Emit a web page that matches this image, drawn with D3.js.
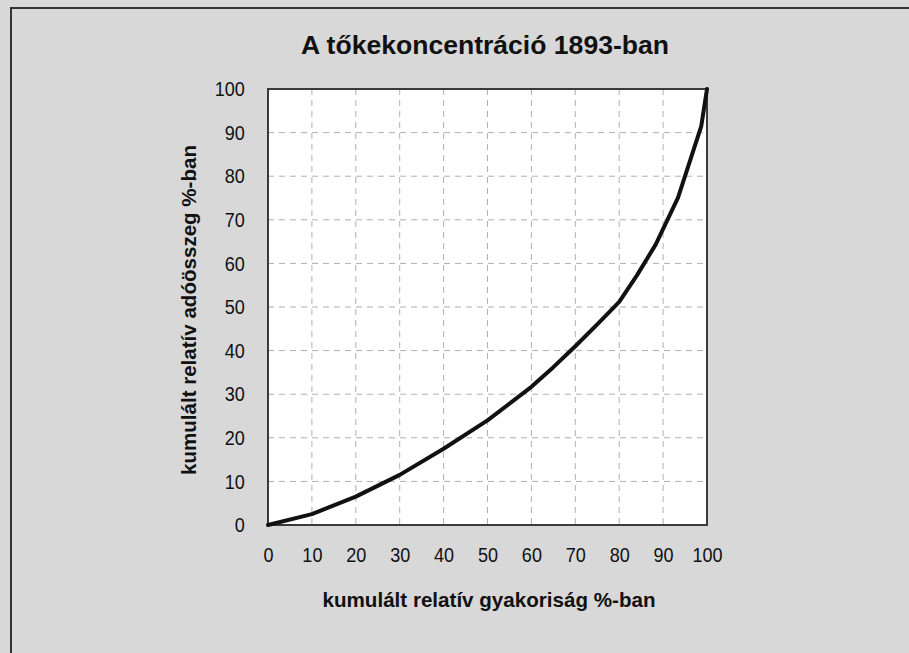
<!DOCTYPE html>
<html>
<head>
<meta charset="utf-8">
<script src="https://cdn.jsdelivr.net/npm/d3@7/dist/d3.min.js"></script>
<style>
  html, body { margin: 0; padding: 0; background: #d8d8d8; }
  svg { display: block; }
</style>
</head>
<body>
<svg id="chart" width="909" height="653"></svg>
<script>
const title = "A tőkekoncentráció 1893-ban";
const xTitle = "kumulált relatív gyakoriság %-ban";
const yTitle = "kumulált relatív adóösszeg %-ban";
const xTicks = [0, 10, 20, 30, 40, 50, 60, 70, 80, 90, 100];
const yTicks = [0, 10, 20, 30, 40, 50, 60, 70, 80, 90, 100];
const cumFreq = [0, 10, 20, 30, 40, 50, 60, 65, 70, 75, 80, 84, 88.3, 93.4, 98.7, 100];
const cumTax  = [0, 2.5, 6.5, 11.5, 17.5, 24, 31.7, 36.2, 41, 46, 51.2, 57.2, 64.3, 75.1, 91.5, 100];

const svg = d3.select("#chart");
const W = 909, H = 653;
const m = { left: 268, top: 89, right: 707, bottom: 525 };

svg.append("rect").attr("x", 0).attr("y", 0).attr("width", W).attr("height", H).attr("fill", "#d8d8d8");
svg.append("path").attr("d", `M11,${H} L11,8 L${W},8`).attr("fill", "none").attr("stroke", "#333").attr("stroke-width", 2);

const x = d3.scaleLinear().domain([0, 100]).range([m.left, m.right]);
const y = d3.scaleLinear().domain([0, 100]).range([m.bottom, m.top]);

svg.append("rect").attr("x", m.left).attr("y", m.top)
  .attr("width", m.right - m.left).attr("height", m.bottom - m.top).attr("fill", "#fff");

const g = svg.append("g");
g.selectAll(".vg").data(xTicks.slice(1, -1)).join("line")
  .attr("x1", d => x(d)).attr("x2", d => x(d)).attr("y1", m.top).attr("y2", m.bottom)
  .attr("stroke", "#b0b0b0").attr("stroke-width", 1).attr("stroke-dasharray", "6,5");
g.selectAll(".hg").data(yTicks.slice(1, -1)).join("line")
  .attr("x1", m.left).attr("x2", m.right).attr("y1", d => y(d)).attr("y2", d => y(d))
  .attr("stroke", "#b0b0b0").attr("stroke-width", 1).attr("stroke-dasharray", "6,5");

svg.append("rect").attr("x", m.left).attr("y", m.top)
  .attr("width", m.right - m.left).attr("height", m.bottom - m.top)
  .attr("fill", "none").attr("stroke", "#3a3a3a").attr("stroke-width", 2);

const pts = cumFreq.map((v, i) => [v, cumTax[i]]);
svg.append("path").datum(pts)
  .attr("d", d3.line().x(d => x(d[0])).y(d => y(d[1])).curve(d3.curveLinear))
  .attr("fill", "none").attr("stroke", "#111").attr("stroke-width", 4)
  .attr("stroke-linejoin", "round").attr("stroke-linecap", "round");

const font = "'Liberation Sans', Arial, sans-serif";
const sx = 0.86;

const xAxis = svg.append("g").attr("transform", `translate(0,${m.bottom})`)
  .call(d3.axisBottom(x).tickValues(xTicks).tickSize(0).tickPadding(22).tickFormat(d3.format("d")));
xAxis.select(".domain").remove();
xAxis.selectAll("text").attr("font-family", font).attr("font-size", 21).attr("fill", "#111")
  .attr("transform", `scale(${sx},1)`);

const yAxis = svg.append("g").attr("transform", `translate(${m.left},0)`)
  .call(d3.axisLeft(y).tickValues(yTicks).tickSize(0).tickPadding(Math.round(23 / sx)).tickFormat(d3.format("d")));
yAxis.select(".domain").remove();
yAxis.selectAll("text").attr("font-family", font).attr("font-size", 21).attr("fill", "#111")
  .attr("transform", `scale(${sx},1)`);

svg.append("text").attr("x", 485).attr("y", 54).attr("text-anchor", "middle")
  .attr("font-family", font).attr("font-weight", "bold").attr("font-size", 26)
  .attr("textLength", 368).attr("lengthAdjust", "spacingAndGlyphs")
  .attr("fill", "#111").text(title);

svg.append("text").attr("x", 489).attr("y", 607).attr("text-anchor", "middle")
  .attr("font-family", font).attr("font-weight", "bold").attr("font-size", 21)
  .attr("textLength", 333).attr("lengthAdjust", "spacingAndGlyphs")
  .attr("fill", "#111").text(xTitle);

svg.append("text").attr("transform", "translate(196,310) rotate(-90)").attr("text-anchor", "middle")
  .attr("font-family", font).attr("font-weight", "bold").attr("font-size", 21)
  .attr("textLength", 330).attr("lengthAdjust", "spacingAndGlyphs")
  .attr("fill", "#111").text(yTitle);
</script>
</body>
</html>
